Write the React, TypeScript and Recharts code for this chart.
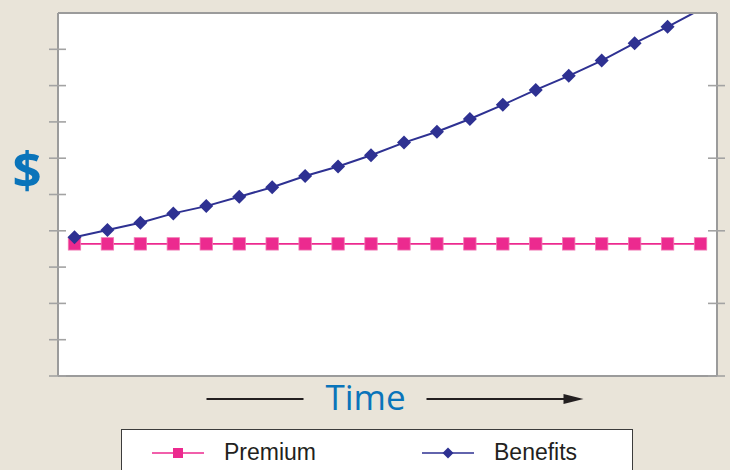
import React from 'react';
import { LineChart, Line, XAxis, YAxis, CartesianGrid, Legend } from 'recharts';

// periods along the time axis
const periods = [1, 2, 3, 4, 5, 6, 7, 8, 9, 10, 11, 12, 13, 14, 15, 16, 17, 18, 19, 20];
// flat premium
const premium = [3.64, 3.64, 3.64, 3.64, 3.64, 3.64, 3.64, 3.64, 3.64, 3.64, 3.64, 3.64, 3.64, 3.64, 3.64, 3.64, 3.64, 3.64, 3.64, 3.64];
// growing benefits (last one runs off the top)
const benefits = [3.82, 4.02, 4.22, 4.48, 4.68, 4.94, 5.2, 5.51, 5.77, 6.08, 6.43, 6.73, 7.08, 7.47, 7.88, 8.27, 8.69, 9.17, 9.62, 10.1];
const leftTicks = [0, 1, 2, 3, 4, 5, 6, 7, 8, 9];
const rightTicks = [0, 2, 4, 6, 8];
const legendOrder = ['premium', 'benefits'];
const yMax = 10;

const data = periods.map((t, i) => ({ t, premium: premium[i], benefits: benefits[i] }));

const BG = '#e9e4d9';
const FRAME = '#9b9b9b';
const PINK = '#ec2a8f';
const NAVY = '#2e3192';
const BLUE = '#0a74ba';
const INK = '#231f20';

const SquareDot = (props: any) => {
  const { cx, cy, index } = props;
  if (cx == null || cy == null) return null;
  return <rect key={`sq-${index}`} x={cx - 6.2} y={cy - 6.2} width={12.4} height={12.4} fill={PINK} stroke="#f17ab4" strokeWidth={0.8} />;
};

const DiamondDot = (props: any) => {
  const { cx, cy, index, payload } = props;
  if (cx == null || cy == null) return null;
  // marker past the top of the frame is not shown
  if (payload && payload.benefits > yMax) return <g key={`dm-${index}`} />;
  return (
    <polygon
      key={`dm-${index}`}
      points={`${cx},${cy - 7} ${cx + 7},${cy} ${cx},${cy + 7} ${cx - 7},${cy}`}
      fill={NAVY}
    />
  );
};

// tick marks cross the axis line
const CrossTick = (props: any) => {
  const { x, y } = props;
  return <line x1={x - 9} x2={x + 8} y1={y} y2={y} stroke="#a3a3a3" strokeWidth={1.6} />;
};

const DollarLabel = (props: any) => {
  const vb = props.viewBox || { x: 57, y: 13, width: 1, height: 363 };
  return (
    <text x={vb.x + vb.width - 31} y={vb.y + 175} textAnchor="middle" fontFamily="Open Sans" fontWeight="bold" fontSize={51} fill={BLUE}>
      $
    </text>
  );
};

const TimeLabel = (props: any) => {
  const vb = props.viewBox || { x: 58, y: 376, width: 659, height: 1 };
  const cx = vb.x + vb.width / 2;
  const y = vb.y + 23;
  return (
    <g>
      <line x1={cx - 181} x2={cx - 84} y1={y} y2={y} stroke={INK} strokeWidth={2} />
      <text x={cx - 22} y={vb.y + 34} textAnchor="middle" fontFamily="Open Sans" fontSize={35} fill={BLUE}>
        Time
      </text>
      <line x1={cx + 39} x2={cx + 180} y1={y} y2={y} stroke={INK} strokeWidth={2} />
      <polygon points={`${cx + 196},${y} ${cx + 176},${y - 5} ${cx + 176},${y + 5}`} fill={INK} />
    </g>
  );
};

const LegendBox = (props: any) => {
  const payload = [...(props.payload || [])].sort(
    (a: any, b: any) => legendOrder.indexOf(a.dataKey) - legendOrder.indexOf(b.dataKey)
  );
  const slots = [30, 300];
  return (
    <div style={{ width: 512, height: 50, background: '#fff', border: '1.5px solid #3c3c3c', boxSizing: 'border-box' }}>
      <svg width={509} height={47} style={{ display: 'block' }}>
        {payload.map((entry: any, i: number) => {
          const x0 = slots[i];
          const cy = 23;
          const color = entry.dataKey === 'premium' ? PINK : NAVY;
          return (
            <g key={entry.value}>
              <line x1={x0} x2={x0 + 52} y1={cy} y2={cy} stroke={color} strokeWidth={1.6} />
              {entry.dataKey === 'premium' ? (
                <rect x={x0 + 21} y={cy - 5} width={10} height={10} fill={PINK} />
              ) : (
                <polygon points={`${x0 + 26},${cy - 5.5} ${x0 + 31.5},${cy} ${x0 + 26},${cy + 5.5} ${x0 + 20.5},${cy}`} fill={NAVY} />
              )}
              <text x={x0 + 72} y={cy + 7} fontFamily="Liberation Sans, Arial, sans-serif" fontSize={23} fill={INK}>
                {entry.value}
              </text>
            </g>
          );
        })}
      </svg>
    </div>
  );
};

export default function App() {
  return (
    <div style={{ position: 'absolute', left: 0, top: 0, width: 730, height: 470, background: BG, overflow: 'hidden' }}>
      <LineChart width={730} height={470} data={data} margin={{ top: 12, right: 12, bottom: 93, left: 57 }}>
        <CartesianGrid horizontal={false} vertical={false} fill="#fff" />
        <XAxis
          xAxisId="bottom"
          dataKey="t"
          type="number"
          domain={[0.5, 20.5]}
          allowDataOverflow
          height={1}
          tick={false}
          tickLine={false}
          axisLine={{ stroke: FRAME, strokeWidth: 2 }}
          label={TimeLabel}
        />
        <XAxis
          xAxisId="top"
          orientation="top"
          dataKey="t"
          type="number"
          domain={[0.5, 20.5]}
          allowDataOverflow
          height={1}
          tick={false}
          tickLine={false}
          axisLine={{ stroke: FRAME, strokeWidth: 2 }}
        />
        <YAxis
          yAxisId="left"
          type="number"
          domain={[0, yMax]}
          allowDataOverflow
          ticks={leftTicks}
          width={1}
          tickSize={0}
          tickMargin={0}
          tickLine={false}
          tick={CrossTick}
          axisLine={{ stroke: FRAME, strokeWidth: 2 }}
          label={DollarLabel}
        />
        <YAxis
          yAxisId="right"
          orientation="right"
          type="number"
          domain={[0, yMax]}
          allowDataOverflow
          ticks={rightTicks}
          width={1}
          tickSize={0}
          tickMargin={0}
          tickLine={false}
          tick={CrossTick}
          axisLine={{ stroke: FRAME, strokeWidth: 2 }}
        />
        <Legend
          layout="vertical"
          align="center"
          verticalAlign="middle"
          content={LegendBox}
          wrapperStyle={{ left: 121, top: 429, width: 512, height: 50 }}
        />
        <Line
          xAxisId="bottom"
          yAxisId="left"
          name="Premium"
          dataKey="premium"
          stroke={PINK}
          strokeWidth={1.6}
          dot={SquareDot}
          activeDot={false}
          isAnimationActive={false}
        />
        <Line
          xAxisId="bottom"
          yAxisId="left"
          name="Benefits"
          dataKey="benefits"
          stroke={NAVY}
          strokeWidth={2}
          dot={DiamondDot}
          activeDot={false}
          isAnimationActive={false}
        />
      </LineChart>
    </div>
  );
}
